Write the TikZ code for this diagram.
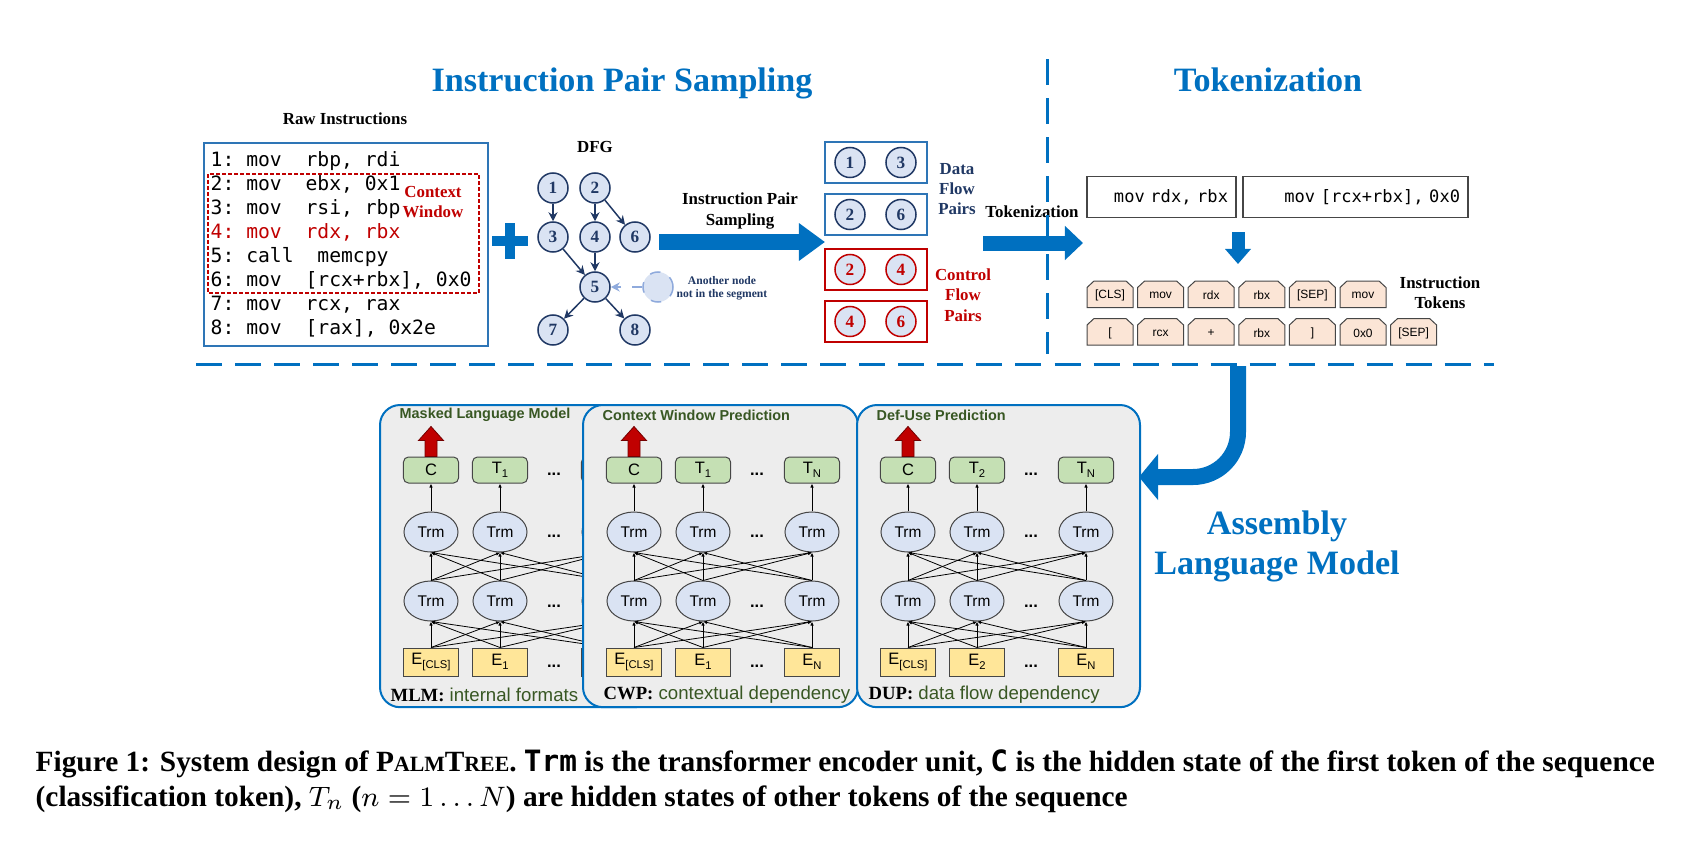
\documentclass[tikz,border=0pt]{standalone}
\usepackage{fontspec}
\setmainfont{Liberation Serif}
\setsansfont{Liberation Sans}
\setmonofont{DejaVu Sans Mono}
\usepackage{xcolor}
\usepackage{tikz}
\usetikzlibrary{shapes.geometric, arrows.meta, positioning, calc}

\definecolor{ptblue}{RGB}{0,112,192}
\definecolor{boxblue}{RGB}{46,117,182}
\definecolor{navy}{RGB}{32,56,100}
\definecolor{nodefill}{RGB}{218,227,243}
\definecolor{codered}{RGB}{192,0,0}
\definecolor{otherdraw}{RGB}{143,170,220}
\definecolor{tokfill}{RGB}{251,229,214}
\definecolor{outfill}{RGB}{197,224,180}
\definecolor{embfill}{RGB}{255,230,153}
\definecolor{panelfill}{RGB}{237,237,237}
\definecolor{lblgreen}{RGB}{56,87,35}
\definecolor{bordgray}{RGB}{70,70,70}

\newcommand{\tokidx}[1]{\raisebox{-0.4ex}{\fontsize{3.2}{3.5}\selectfont #1}}

\begin{document}
\begin{tikzpicture}[
  x=0.01cm, y=-0.01cm,
  title/.style={font=\fontsize{9.7}{11.4}\selectfont\bfseries, text=ptblue, align=center},
  lbl/.style={font=\fontsize{4.8}{5.8}\selectfont\bfseries, align=center},
  codeline/.style={font=\fontsize{5.6}{6.8}\selectfont\ttfamily, anchor=base west, inner sep=0pt},
  dfgnode/.style={circle, draw=navy, fill=nodefill, line width=0.015cm, minimum size=0.3cm, inner sep=0pt, font=\fontsize{4.9}{5}\selectfont\bfseries, text=navy},
  dfgedge/.style={navy, line width=0.015cm, -{Stealth[length=0.09cm, width=0.09cm]}},
  pairbox/.style={draw, line width=0.02cm, minimum width=1.02cm, minimum height=0.41cm},
  bigarrow/.style={ptblue, line width=0.16cm, -{Triangle[length=0.26cm, width=0.36cm]}},
  divider/.style={ptblue, line width=0.03cm, dash pattern=on 0.26cm off 0.13cm},
  insbox/.style={draw=bordgray, line width=0.015cm, minimum height=0.41cm, inner xsep=0.08cm, align=right, font=\fontsize{4.85}{5}\selectfont\ttfamily},
  tokshape/.style={draw=bordgray, line width=0.01cm, fill=tokfill},
  token/.style={minimum width=0.46cm, minimum height=0.27cm, inner sep=0pt, font=\fontsize{3.4}{4}\selectfont\sffamily},
  panel/.style={draw=ptblue, line width=0.02cm, fill=panelfill, rounded corners=0.2cm, minimum height=3.02cm, anchor=north west},
  ptitle/.style={anchor=west, inner sep=0pt, text=lblgreen, font=\fontsize{4.1}{5}\selectfont\sffamily\bfseries},
  outbox/.style={draw=bordgray, line width=0.01cm, fill=outfill, rounded corners=0.05cm, minimum width=0.55cm, minimum height=0.26cm, inner sep=0pt, font=\fontsize{4.7}{5}\selectfont\sffamily},
  trm/.style={ellipse, draw=bordgray, line width=0.01cm, fill=nodefill, minimum width=0.54cm, minimum height=0.40cm, inner sep=0pt, font=\fontsize{4.4}{5}\selectfont\sffamily},
  embox/.style={draw=bordgray, line width=0.01cm, fill=embfill, minimum width=0.55cm, minimum height=0.28cm, inner sep=0pt, font=\fontsize{4.7}{5}\selectfont\sffamily},
  dots/.style={font=\fontsize{4.7}{5}\selectfont\sffamily\bfseries},
  link/.style={line width=0.008cm, -{Latex[length=0.04cm, width=0.035cm]}},
  redup/.style={fill=codered, draw=codered!60!black, line width=0.008cm},
  pdesc/.style={anchor=west, inner sep=0pt, text=lblgreen, font=\fontsize{5.3}{6}\selectfont\sffamily},
  caption/.style={anchor=west, inner sep=0pt, font=\fontsize{8.35}{9}\selectfont\bfseries}
]
\useasboundingbox (0,0) rectangle (1681,842);

% titles
\node[title] (ipsttl) at (622,83) {Instruction Pair Sampling};
\node[title] (tokttl) at (1268,80) {Tokenization};
\node[title] (almttl) at (1277,546) {Assembly\\Language Model};

% raw instructions
\node[lbl] (rawlbl) at (345,119) {Raw Instructions};
\node[draw=boxblue, line width=0.02cm, minimum width=2.84cm, minimum height=2.03cm, anchor=north west] (raw) at (203,142) {};
\foreach \ln [count=\i] in {{1:~mov~~rbp,~rdi}, {2:~mov~~ebx,~0x1}, {3:~mov~~rsi,~rbp}, {\color{codered}4:~mov~~rdx,~rbx}, {5:~call~~memcpy}, {6:~mov~~[rcx+rbx],~0x0}, {7:~mov~~rcx,~rax}, {8:~mov~~[rax],~0x2e}}
  \node[codeline] (ins\i) at (210,{166+24*(\i-1)}) {\ln};
\draw[codered, line width=0.02cm, dash pattern=on 0.035cm off 0.025cm] (208,174) rectangle (479,293);
\node[lbl, text=codered] (ctxlbl) at (433,202) {Context\\Window};

% plus
\draw[ptblue, line width=0.1cm] (492,241) -- (528,241) (510,223) -- (510,259);

% DFG
\node[lbl] (dfglbl) at (595,147) {DFG};
\node[dfgnode] (d1) at (553,188) {1};
\node[dfgnode] (d2) at (595,188) {2};
\node[dfgnode] (d3) at (553,237) {3};
\node[dfgnode] (d4) at (595,237) {4};
\node[dfgnode] (d6) at (635,237) {6};
\node[dfgnode] (d5) at (595,287) {5};
\node[dfgnode] (d7) at (553,330) {7};
\node[dfgnode] (d8) at (635,330) {8};
\node[dfgnode, draw=otherdraw, dashed] (dx) at (658,287) {};
\node[font=\fontsize{3.3}{3.7}\selectfont\bfseries, text=navy, align=center] (dxlbl) at (722,288) {Another node\\not in the segment};
\draw[dfgedge] (d1) -- (d3);
\draw[dfgedge] (d2) -- (d4);
\draw[dfgedge] (d2) -- (d6);
\draw[dfgedge] (d3) -- (d5);
\draw[dfgedge] (d4) -- (d5);
\draw[dfgedge] (d5) -- (d7);
\draw[dfgedge] (d5) -- (d8);
\draw[dfgedge, otherdraw, dashed] (dx) -- (d5);

% sampling arrow
\coordinate (ips0) at (659,242);
\coordinate (ips1) at (825,242);
\draw[bigarrow] (ips0) -- (ips1);
\node[lbl] (ipslbl) at (740,211) {Instruction Pair\\Sampling};

% pairs
\foreach \bx/\y/\a/\b/\bc/\cc in {dfa/162.5/1/3/boxblue/navy, dfb/214.5/2/6/boxblue/navy, cfa/269.5/2/4/codered/codered, cfb/321.5/4/6/codered/codered} {
  \node[pairbox, draw=\bc] (\bx) at (876,\y) {};
  \node[dfgnode, draw=\cc, text=\cc] (\bx-a) at (850,\y) {\a};
  \node[dfgnode, draw=\cc, text=\cc] (\bx-b) at (901,\y) {\b};
}
\node[lbl, text=navy] (dflbl) at (957,189) {Data\\Flow\\Pairs};
\node[lbl, text=codered] (cflbl) at (963,295) {Control\\Flow\\Pairs};

% tokenization
\coordinate (tk0) at (983,243);
\coordinate (tk1) at (1083,243);
\draw[bigarrow, line width=0.15cm, -{Triangle[length=0.18cm, width=0.33cm]}] (tk0) -- (tk1);
\node[lbl] (toklbl) at (1032,212) {Tokenization};
\node[insbox, text width=1.33cm] (insa) at (1161.5,197) {mov~rdx,~rbx};
\node[insbox, text width=2.09cm] (insb) at (1355.5,197) {mov~[rcx+rbx],~0x0};
\coordinate (dn0) at (1238,232);
\coordinate (dn1) at (1238,264);
\draw[bigarrow, line width=0.13cm, -{Triangle[length=0.15cm, width=0.25cm]}] (dn0) -- (dn1);
\foreach \t [count=\i] in {{[CLS]},mov,rdx,rbx,{[SEP]},mov} {
  \pgfmathsetmacro{\cx}{1110+50.6*(\i-1)}
  \draw[tokshape] (\cx-23,307.5) -- ++(0,-20) -- ++(7,-6.5) -- ++(32,0) -- ++(7,6.5) -- ++(0,20) -- cycle;
  \node[token] (ta\i) at (\cx,295.5) {\t};
}
\foreach \t [count=\i] in {{[},rcx,+,rbx,{]},0x0,{[SEP]}} {
  \pgfmathsetmacro{\cx}{1110+50.6*(\i-1)}
  \draw[tokshape] (\cx-23,345) -- ++(0,-20) -- ++(7,-6.5) -- ++(32,0) -- ++(7,6.5) -- ++(0,20) -- cycle;
  \node[token] (tb\i) at (\cx,333) {\t};
}
\node[lbl] (toklist) at (1440,293) {Instruction\\Tokens};

% dividers
\coordinate (vtop) at (1047,59);
\coordinate (vbot) at (1047,354);
\coordinate (hl) at (196,364);
\coordinate (hr) at (1494,364);
\draw[divider] (vtop) -- (vbot);
\draw[divider] (hl) -- (hr);

% encoder panels
\foreach \px/\pw/\nm/\ttl/\tb/\eb/\md/\desc/\dx in {379/275/mlm/Masked Language Model/1/1/MLM/internal formats/11, 582/275/cwp/Context Window Prediction/1/1/CWP/contextual dependency/21, 856/283/dup/Def-Use Prediction/2/2/DUP/data flow dependency/12} {
  \node[panel, minimum width=\pw*0.01cm] (\nm) at (\px,404) {};
  \node[ptitle] (\nm-ttl) at (\px+20,415) {\ttl};
  \node[outbox] (\nm-o1) at (\px+52,470) {C};
  \node[outbox] (\nm-o2) at (\px+121,470) {T\tokidx{\tb}};
  \node[outbox] (\nm-o3) at (\px+230,470) {T\tokidx{N}};
  \node[trm] (\nm-u1) at (\px+52,532) {Trm};
  \node[trm] (\nm-u2) at (\px+121,532) {Trm};
  \node[trm] (\nm-u3) at (\px+230,532) {Trm};
  \node[trm] (\nm-l1) at (\px+52,601) {Trm};
  \node[trm] (\nm-l2) at (\px+121,601) {Trm};
  \node[trm] (\nm-l3) at (\px+230,601) {Trm};
  \node[embox] (\nm-e1) at (\px+52,662) {E\tokidx{[CLS]}};
  \node[embox] (\nm-e2) at (\px+121,662) {E\tokidx{\eb}};
  \node[embox] (\nm-e3) at (\px+230,662) {E\tokidx{N}};
  \foreach \yy [count=\r] in {474,536,606,666}
    \node[dots] (\nm-dot\r) at (\px+175,\yy) {...};
  \foreach \k in {1,2,3} {
    \draw[link] (\nm-u\k) -- (\nm-o\k);
    \foreach \j in {1,2,3} {
      \draw[link] (\nm-l\k.north) -- (\nm-u\j.south);
      \draw[link] (\nm-e\k.north) -- (\nm-l\j.south);
    }
  }
  \draw[redup] ($(\nm-o1.north)+(-6,0)$) -- ++(0,-16) -- ++(-6.5,0) -- ++(12.5,-14) -- ++(12.5,14) -- ++(-6.5,0) -- ++(0,16) -- cycle;
  \node[pdesc] (\nm-desc) at (\px+\dx,695) {{\rmfamily\bfseries\color{black}\md:} \desc};
}

% to the language model
\coordinate (alm0) at (1238,366);
\coordinate (alm1) at (1139,477);
\draw[bigarrow, rounded corners=0.45cm, -{Triangle[length=0.19cm, width=0.45cm]}] (alm0) |- (alm1);

% caption
\node[caption] (cap1) at (35,764) {Figure 1: System design of P{\fontsize{6.2}{6}\selectfont ALM}T{\fontsize{6.2}{6}\selectfont REE}. \texttt{Trm} is the transformer encoder unit, \texttt{C} is the hidden state of the first token of the sequence};
\node[caption] (cap2) at (35,799) {(classification token), $T_n$ ($n=1\dots N$) are hidden states of other tokens of the sequence};
\end{tikzpicture}
\end{document}
